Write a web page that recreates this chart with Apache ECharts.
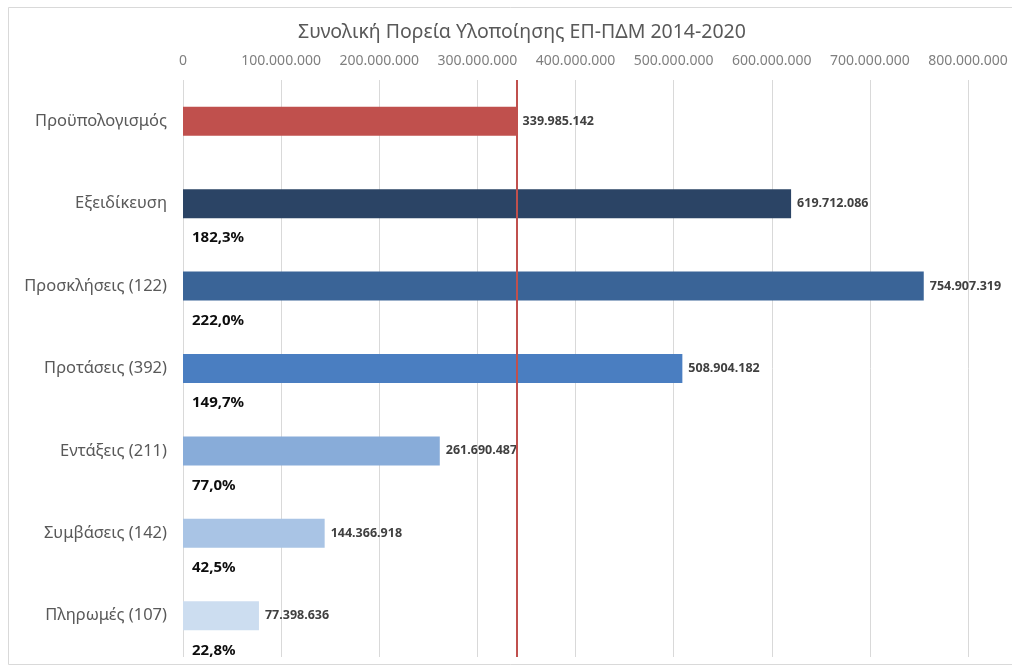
<!DOCTYPE html>
<html>
<head>
<meta charset="utf-8">
<script src="https://cdn.jsdelivr.net/npm/echarts@6/dist/echarts.min.js"></script>
<style>
  html, body { margin: 0; padding: 0; background: #fff; }
  #main { width: 1012px; height: 666px; }
</style>
</head>
<body>
<div id="main"></div>
<script>
// chart data
var categories = ['Προϋπολογισμός', 'Εξειδίκευση', 'Προσκλήσεις (122)', 'Προτάσεις (392)', 'Εντάξεις (211)', 'Συμβάσεις (142)', 'Πληρωμές (107)'];
var amounts = [339985142, 619712086, 754907319, 508904182, 261690487, 144366918, 77398636];
var percents = [null, 182.3, 222.0, 149.7, 77.0, 42.5, 22.8];
var barColors = ['#C0504D', '#2B4465', '#3A6497', '#4A7EC1', '#88ACD9', '#A9C4E5', '#CCDDF0'];
var budget = amounts[0];

var FONT = '"Noto Sans", "DejaVu Sans", sans-serif';

// 1234567 -> 1.234.567
function fmtNum(v) {
    return String(v).replace(/\B(?=(\d{3})+(?!\d))/g, '.');
}
function fmtPct(p) {
    return p.toFixed(1).replace('.', ',') + '%';
}

var chart = echarts.init(document.getElementById('main'));

var option = {
    backgroundColor: '#fff',
    animation: false,
    textStyle: { fontFamily: FONT },
    title: {
        text: 'Συνολική Πορεία Υλοποίησης ΕΠ-ΠΔΜ 2014-2020',
        left: 517,
        textAlign: 'center',
        top: 17,
        textStyle: { fontFamily: FONT, fontSize: 19.5, fontWeight: 'normal', color: '#595959' }
    },
    graphic: [{
        type: 'rect',
        shape: { x: 8.5, y: 7.5, width: 1100, height: 657 },
        style: { fill: 'none', stroke: '#D9D9D9', lineWidth: 1 },
        silent: true
    }],
    grid: { left: 183, right: 44, top: 80, bottom: 9 },
    xAxis: {
        type: 'value',
        position: 'top',
        min: 0,
        max: 800000000,
        interval: 100000000,
        axisLine: { show: false },
        axisTick: { show: false },
        axisLabel: {
            margin: 12,
            fontSize: 14,
            color: '#7F7F7F',
            fontFamily: FONT,
            formatter: function (v) { return fmtNum(v); }
        },
        splitLine: { lineStyle: { color: '#D9D9D9', width: 1 } }
    },
    yAxis: {
        type: 'category',
        inverse: true,
        data: categories,
        axisLine: { show: false },
        axisTick: { show: false },
        axisLabel: { margin: 16, fontSize: 16.5, color: '#595959', fontFamily: FONT }
    },
    series: [{
        name: 'Ποσό',
        type: 'bar',
        barWidth: 29,
        data: amounts.map(function (v, i) {
            return { value: v, itemStyle: { color: barColors[i] } };
        }),
        label: {
            show: true,
            position: 'right',
            distance: 6,
            fontSize: 12.5,
            fontWeight: 'bold',
            color: '#404040',
            fontFamily: FONT,
            formatter: function (p) { return fmtNum(p.value); }
        },
        markLine: {
            silent: true,
            symbol: 'none',
            label: { show: false },
            lineStyle: { color: '#C0504D', width: 2, type: 'solid' },
            data: [{ xAxis: budget }]
        },
        z: 3
    }, {
        // transparent overlay used only to place the % label under each bar
        name: 'Ποσοστό',
        type: 'bar',
        barWidth: 29,
        barGap: '-100%',
        silent: true,
        itemStyle: { color: 'rgba(0,0,0,0)' },
        data: amounts,
        label: {
            show: true,
            position: [9, 49],
            align: 'left',
            verticalAlign: 'middle',
            fontSize: 15,
            fontWeight: 'bold',
            color: '#0D0D0D',
            fontFamily: FONT,
            formatter: function (p) {
                var pc = percents[p.dataIndex];
                return pc == null ? '' : fmtPct(pc);
            }
        },
        z: 4
    }]
};

chart.setOption(option);
</script>
</body>
</html>
